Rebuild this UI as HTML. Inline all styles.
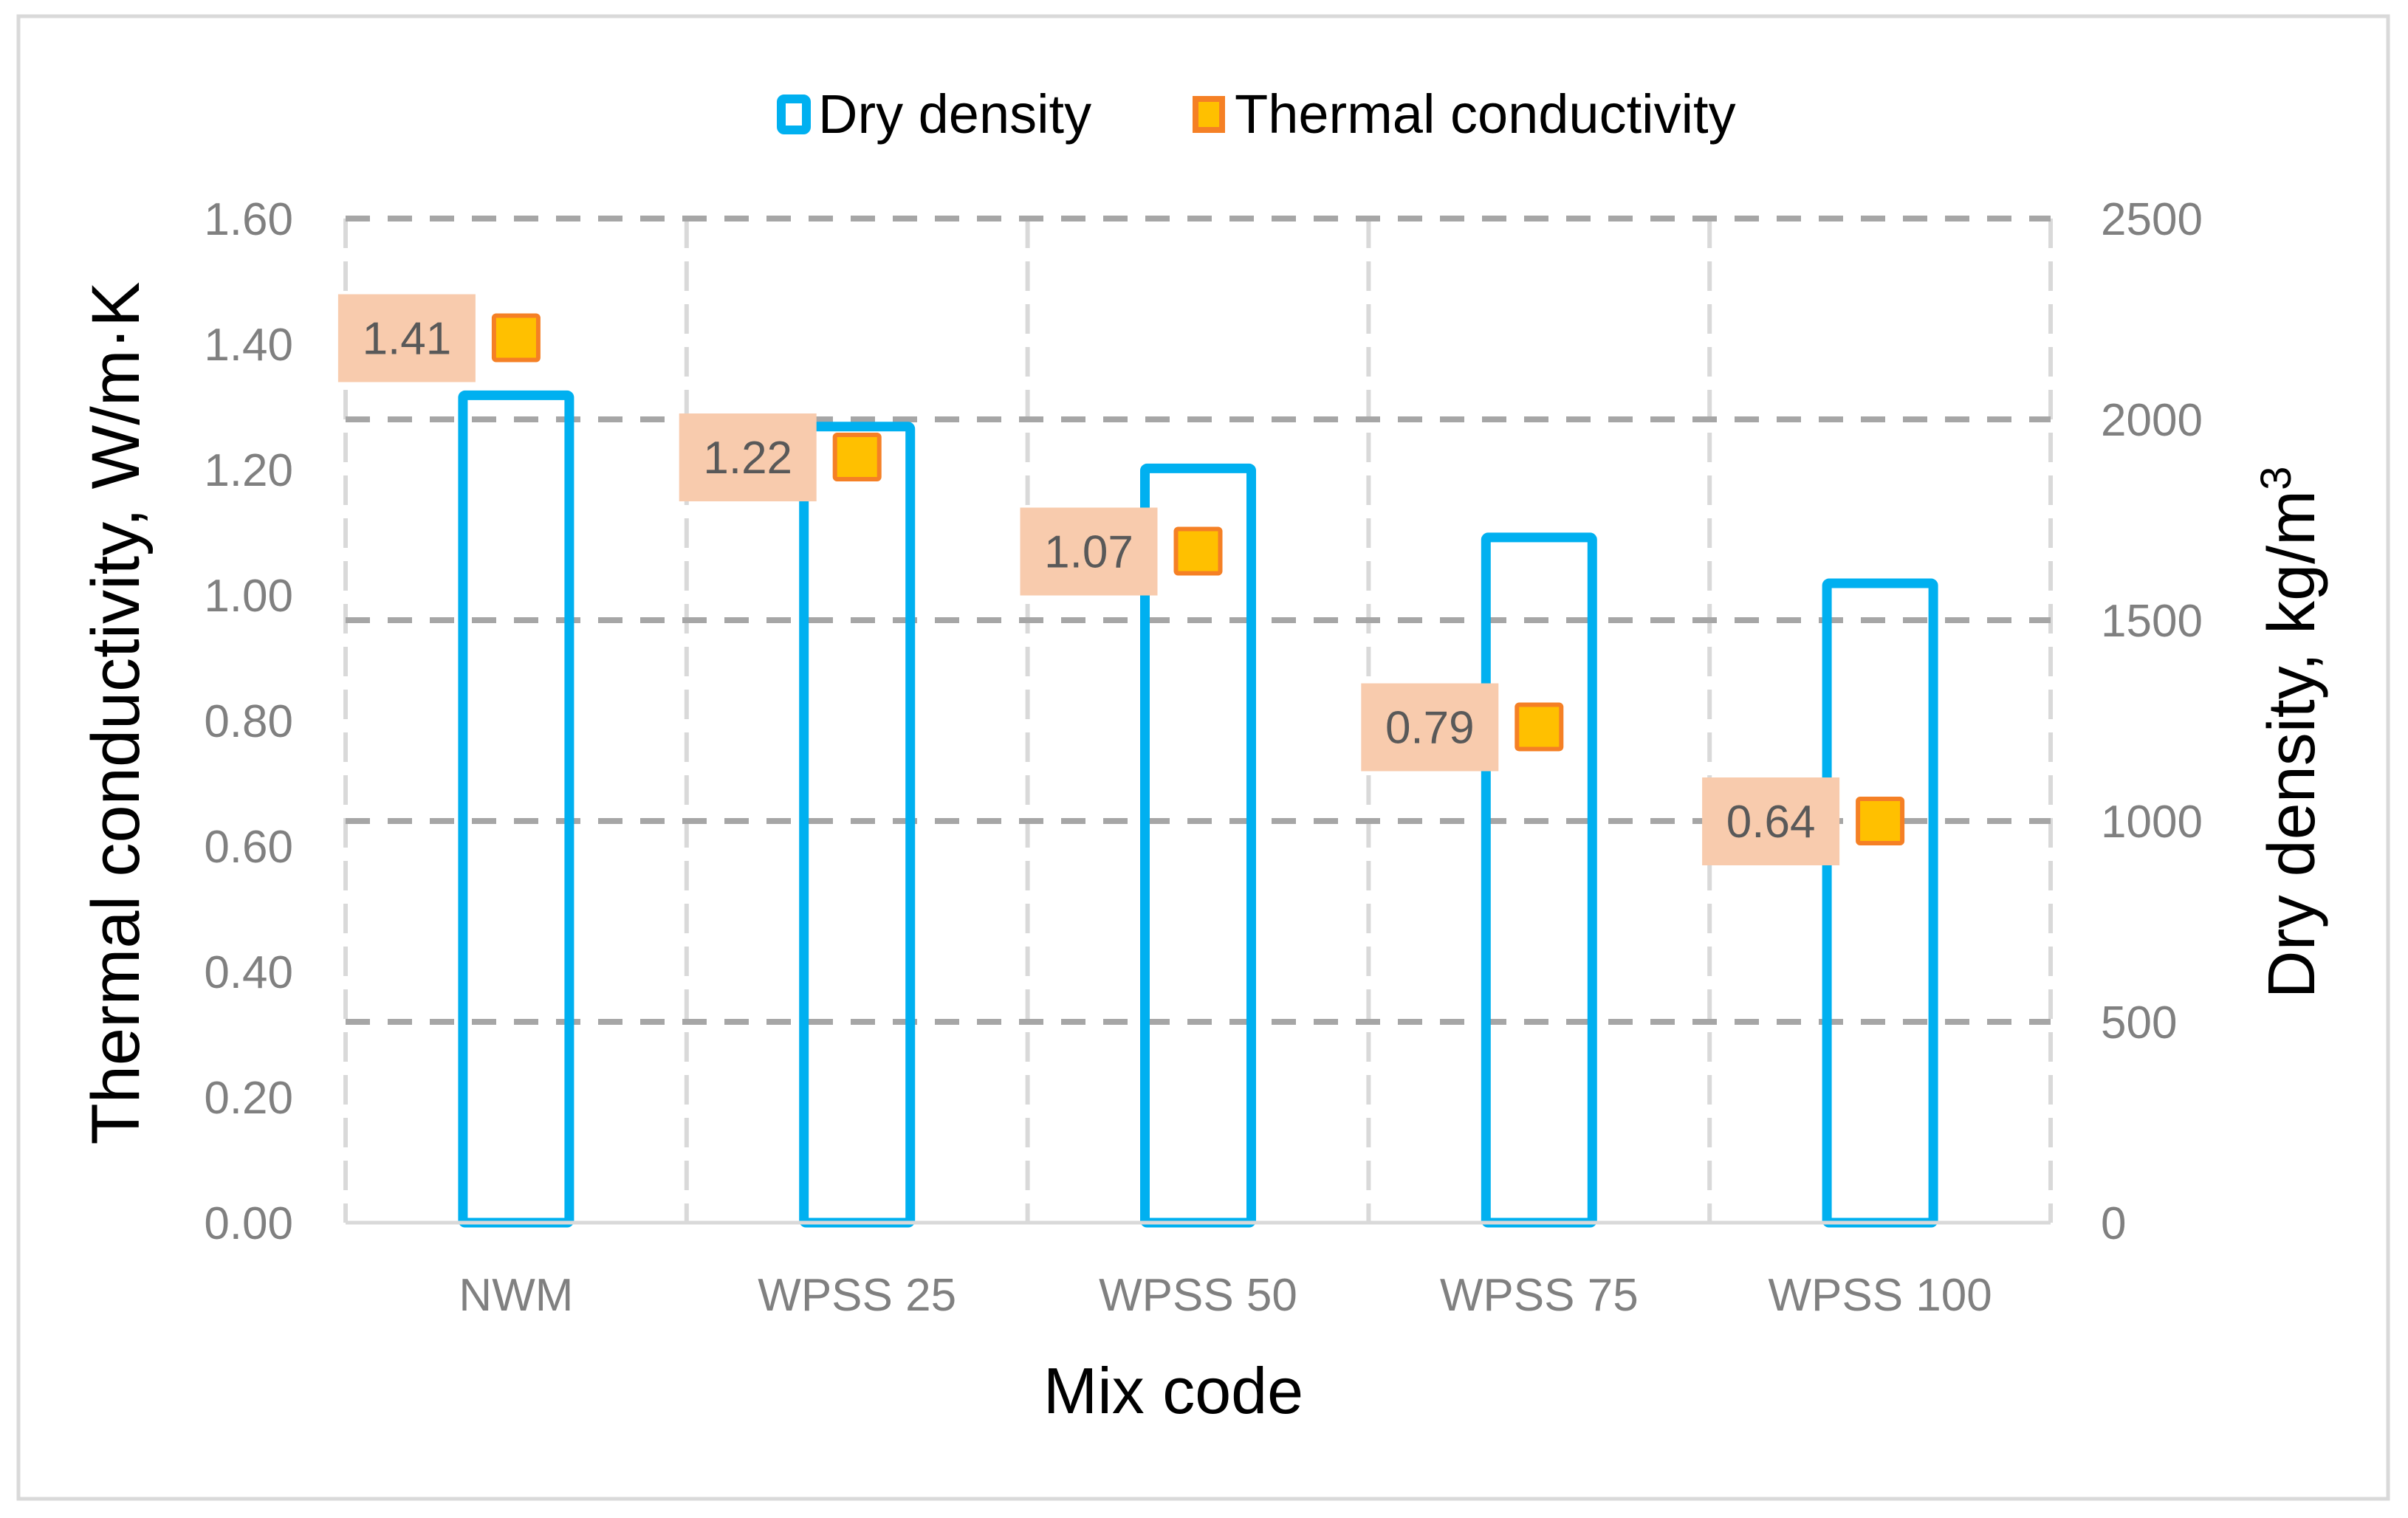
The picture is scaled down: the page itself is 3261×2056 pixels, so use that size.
<!DOCTYPE html>
<html><head><meta charset="utf-8"><style>
html,body{margin:0;padding:0;background:#fff;}
svg{display:block;}
</style></head><body>
<svg id="chart" xmlns="http://www.w3.org/2000/svg" width="3261" height="2056" viewBox="0 0 3261 2056" font-family="'Liberation Sans', sans-serif">
<rect x="25" y="22" width="3209" height="2008" fill="#fff" stroke="#d9d9d9" stroke-width="5"/>
<g id="grid"></g>
<g id="bars"></g>
<g id="markers"></g>
<g id="axes"></g>
<g>
  <rect x="1058" y="134" width="34" height="42" rx="4" fill="#fff" stroke="#00b0f0" stroke-width="12"/>
  <text x="1108" y="180" font-size="74" fill="#000">Dry density</text>
  <rect x="1619" y="134" width="36" height="42" fill="#ffc000" stroke="#f58025" stroke-width="8"/>
  <text x="1672" y="180" font-size="74" fill="#000">Thermal conductivity</text>
</g>
<text x="1589" y="1914" font-size="88" text-anchor="middle" fill="#000">Mix code</text>
<text transform="translate(188,966) rotate(-90)" font-size="92" text-anchor="middle" fill="#000">Thermal conductivity, W/m·K</text>
<text transform="translate(3134,992) rotate(-90)" font-size="90" text-anchor="middle" fill="#000">Dry density, kg/m<tspan font-size="58" dy="-32">3</tspan></text>
</svg>
<script>
const categories = ["NWM","WPSS 25","WPSS 50","WPSS 75","WPSS 100"];
const dryDensity = [2060,1982,1878,1706,1592];
const thermalCond = [1.41,1.22,1.07,0.79,0.64];
const leftTicks = [0,0.2,0.4,0.6,0.8,1.0,1.2,1.4,1.6];
const rightTicks = [0,500,1000,1500,2000,2500];

const NS="http://www.w3.org/2000/svg";
const X0=468,X1=2777,YT=296,YB=1656;
const bw=(X1-X0)/categories.length;
const xc=i=>X0+bw*(i+0.5);
const yL=v=>YB-(v/1.6)*(YB-YT);
const yR=v=>YB-(v/2500)*(YB-YT);
function mk(tag,attrs,parent){const e=document.createElementNS(NS,tag);for(const k in attrs)e.setAttribute(k,attrs[k]);parent.appendChild(e);return e;}
const grid=document.getElementById('grid'),bars=document.getElementById('bars'),markers=document.getElementById('markers'),axes=document.getElementById('axes');

for(let i=0;i<=categories.length;i++){
  const x=X0+bw*i;
  const l=mk('line',{x1:x,x2:x,y1:YT,y2:YB,stroke:'#d9d9d9','stroke-width':6,'stroke-dasharray':'40 18'},grid);
  
  
}
rightTicks.forEach(v=>{
  if(v===0)return;
  const y=yR(v);
  const l=mk('line',{x1:X0,x2:X1,y1:y,y2:y,stroke:'#a6a6a6','stroke-width':8,'stroke-dasharray':'33 24'},grid);
  
  
});
const ax=mk('line',{x1:X0,x2:X1,y1:YB,y2:YB,stroke:'#d9d9d9','stroke-width':5},axes);



dryDensity.forEach((v,i)=>{
  const w=144,y=yR(v);
  const r=mk('rect',{x:xc(i)-w/2,y:y,width:w,height:YB-y,fill:'none',stroke:'#00b0f0','stroke-width':13,rx:3},bars);
  
  
});
thermalCond.forEach((v,i)=>{
  const y=yL(v),x=xc(i),s=60;
  const lb=mk('rect',{x:x-s/2-25-186,y:y-59,width:186,height:119,fill:'#f8cbad'},markers);
  
  
  const t=mk('text',{x:x-s/2-25-93,y:y+22,'font-size':62,'text-anchor':'middle',fill:'#595959'},markers);
  t.textContent=v.toFixed(2);
  
  
  const m=mk('rect',{x:x-s/2,y:y-s/2,width:s,height:s,fill:'#ffc000',stroke:'#f58025','stroke-width':6,rx:3},markers);
  
  
});
leftTicks.forEach(v=>{
  const t=mk('text',{x:397,y:yL(v)+22,'font-size':62,'text-anchor':'end',fill:'#808080'},axes);
  t.textContent=v.toFixed(2);
  
  
});
rightTicks.forEach(v=>{
  const t=mk('text',{x:2845,y:yR(v)+22,'font-size':62,'text-anchor':'start',fill:'#808080'},axes);
  t.textContent=String(v);
  
  
});
categories.forEach((c,i)=>{
  const t=mk('text',{x:xc(i),y:1775,'font-size':62,'text-anchor':'middle',fill:'#808080'},axes);
  t.textContent=c;
  
  
});
</script>
</body></html>
